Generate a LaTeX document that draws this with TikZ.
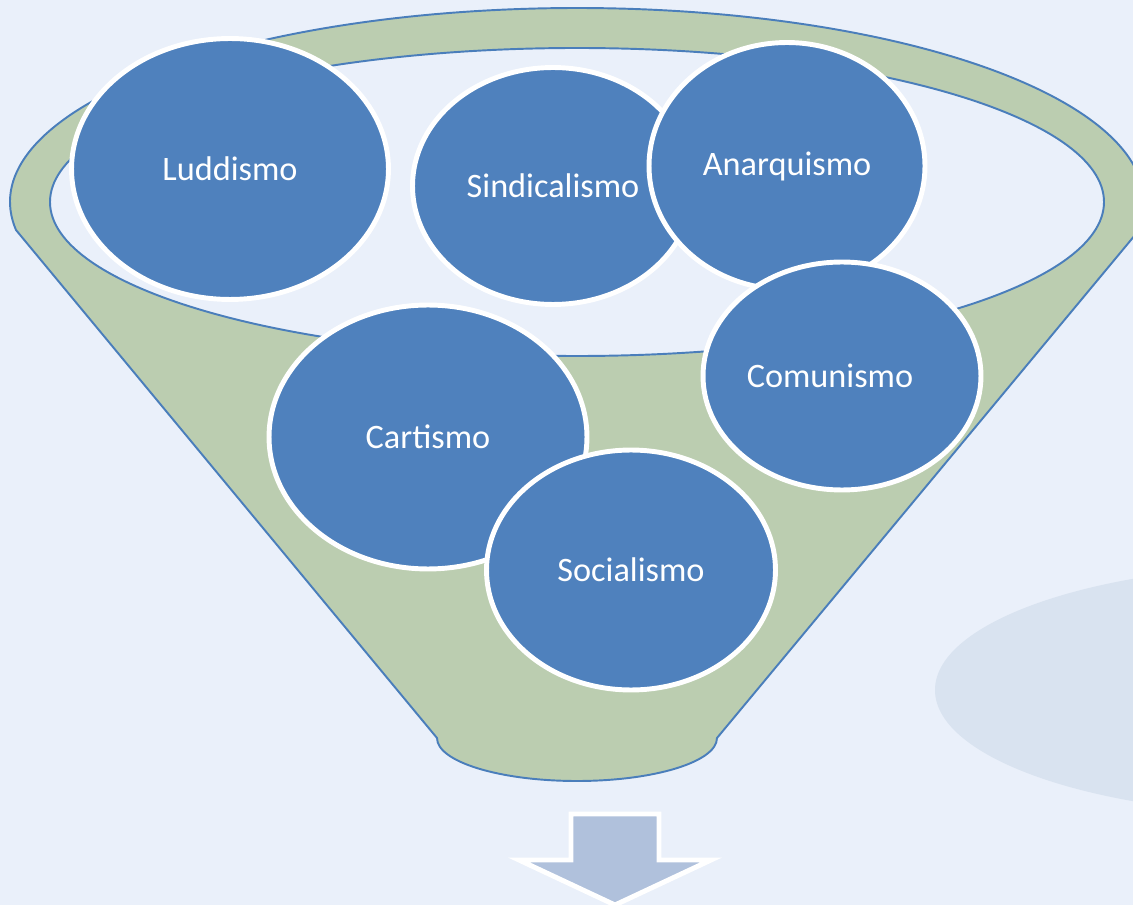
\documentclass[tikz,border=0pt]{standalone}
\usepackage{fontspec}
\setmainfont{Carlito}
\usetikzlibrary{shapes,positioning}

\definecolor{pagebg}{HTML}{EAF0FA}
\definecolor{funnelgreen}{HTML}{BBCDB0}
\definecolor{funnelline}{HTML}{4A7EBB}
\definecolor{bubbleblue}{HTML}{4F81BD}
\definecolor{shadowgrey}{HTML}{D9E3F0}
\definecolor{arrowblue}{HTML}{B0C1DC}

\tikzset{
  bubbletext/.style={text=white, font=\fontsize{19.5}{23}\selectfont},
  bubble/.style={ellipse, draw=white, line width=2.8pt, fill=bubbleblue, inner sep=0pt, bubbletext},
  rim/.style={draw=funnelline, line width=1.1pt}
}

\begin{document}
\begin{tikzpicture}[x=0.02cm, y=-0.02cm]
  \useasboundingbox (0,0) rectangle (1133,905);
  \fill[pagebg] (0,0) rectangle (1133,905);
  % grey shape on the right
  \fill[shadowgrey] (1300,690) ellipse[x radius=365, y radius=125];
  % funnel body and opening
  \filldraw[fill=funnelgreen, rim] (16,230) arc[start angle=171.7, end angle=369.2, x radius=567, y radius=194]
    -- (717,738) arc[start angle=0, end angle=180, x radius=140, y radius=43] -- cycle;
  \filldraw[fill=pagebg, rim] (577,202) ellipse[x radius=527, y radius=154];
  % bubbles
  \node[bubble, minimum width=6.34cm, minimum height=5.22cm] (luddismo) at (230,169) {Luddismo};
  \node[bubble, minimum width=5.62cm, minimum height=4.74cm] (sindicalismo) at (553,186) {Sindicalismo};
  \node[bubble, minimum width=5.52cm, minimum height=4.94cm] (anarquismo) at (787,166) {Anarquismo};
  \node[bubble, minimum width=5.56cm, minimum height=4.56cm,
        label={[bubbletext, xshift=-0.24cm]center:Comunismo}] (comunismo) at (842,376) {};
  \node[bubble, minimum width=6.36cm, minimum height=5.28cm] (cartismo) at (428,437) {Cartismo};
  \node[bubble, minimum width=5.78cm, minimum height=4.80cm] (socialismo) at (631,570) {Socialismo};
  % arrow below the funnel
  \filldraw[fill=arrowblue, draw=white, line width=2.8pt] (571,814) -- (659,814) -- (659,860) -- (711,860)
    -- (615,905) -- (519,860) -- (571,860) -- cycle;
\end{tikzpicture}
\end{document}
